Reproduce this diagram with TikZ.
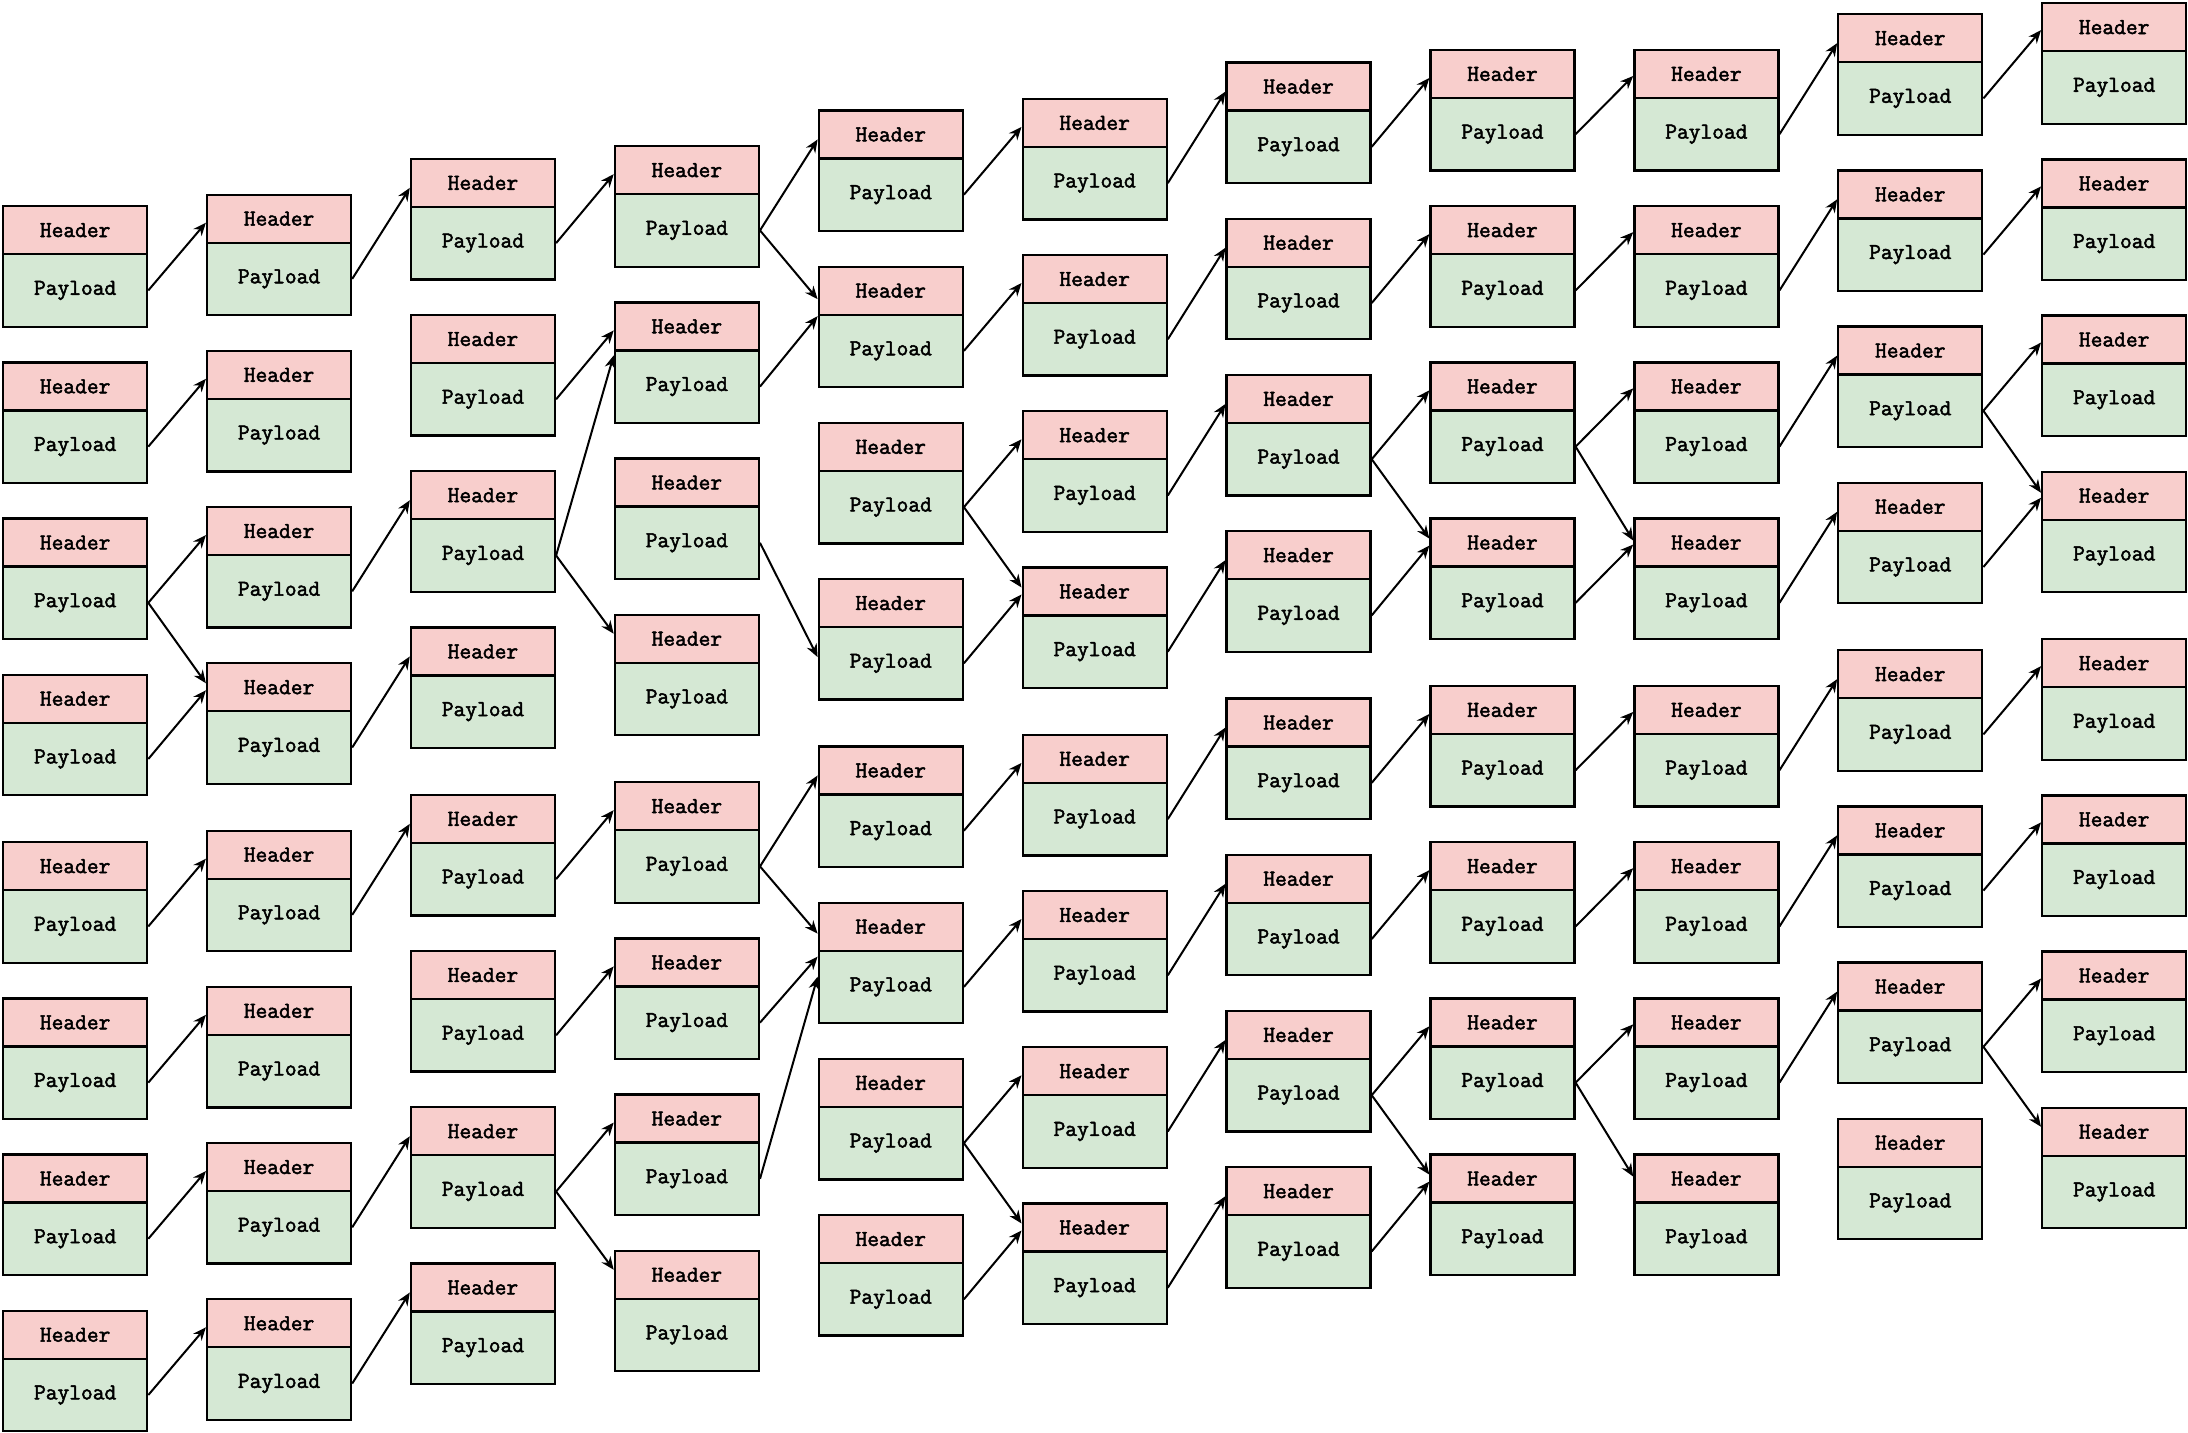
\documentclass[tikz,border=0pt]{standalone}
\usepackage{fontspec}
\newfontfamily\pktfont{Latin Modern Mono}[FakeBold=2.2]
\usetikzlibrary{arrows.meta}

\definecolor{hdrred}{HTML}{F8CECC}
\definecolor{pldgreen}{HTML}{D5E8D4}

\tikzset{
  hdr/.style={draw, line width=1.15pt, fill=hdrred, anchor=north west,
              minimum width=72pt, minimum height=24pt, inner sep=0pt,
              font=\pktfont\fontsize{11.4pt}{13pt}\selectfont},
  pld/.style={hdr, fill=pldgreen, minimum height=36.25pt},
  link/.style={-{Stealth[length=6.5pt, width=5.4pt]}, line width=1pt}
}

\begin{document}
\begin{tikzpicture}[x=0.5pt, y=-0.5pt]
  \useasboundingbox (0,0) rectangle (2188,1432);

  % Packets: column / top of first header
  \foreach \c/\t in {0/205, 1/193.5, 2/157.7, 3/145, 4/109.3, 5/97.7,
                     6/61.4, 7/48.8, 8/48.8, 9/13, 10/2} {
    \foreach \r/\o in {0/0, 1/156.2, 2/312.4, 3/468.6,
                       4/636, 5/792.2, 6/948.4, 7/1104.6} {
      \node[hdr] (h\c-\r) at ({2+203.9*\c}, {\t+\o}) {Header};
      \node[pld] (p\c-\r) at ({2+203.9*\c}, {\t+\o+48}) {Payload};
    }
  }

  % Links: payload -> next header (last value shifts the tip)
  \foreach \a/\b/\d in {
      0-0/1-0/-2pt, 0-1/1-1/-2pt, 0-2/1-2/-2pt, 0-2/1-3/2pt, 0-3/1-3/-1.5pt,
      0-4/1-4/-2pt, 0-5/1-5/-2pt, 0-6/1-6/-2pt, 0-7/1-7/-2pt,
      1-0/2-0/-2.5pt, 1-2/2-2/-2.5pt, 1-3/2-3/-2.5pt, 1-4/2-4/-2.5pt,
      1-6/2-6/-2.5pt, 1-7/2-7/-2.5pt,
      2-0/3-0/-2pt, 2-1/3-1/-2pt, 2-2/3-1/-14.5pt, 2-2/3-3/2.5pt,
      2-4/3-4/-2pt, 2-5/3-5/-2pt, 2-6/3-6/-2pt, 2-6/3-7/2.5pt,
      3-0/4-0/-2.5pt, 3-0/4-1/-4.25pt, 3-1/4-1/-12.75pt, 3-2/4-3/-27pt,
      3-4/4-4/-2.5pt, 3-4/4-5/-3.5pt, 3-5/4-5/-15pt, 3-6/4-5/-25pt,
      4-0/5-0/-2pt, 4-1/5-1/-2pt, 4-2/5-2/-2pt, 4-2/5-3/2pt, 4-3/5-3/-1.5pt,
      4-4/5-4/-2pt, 4-5/5-5/-2pt, 4-6/5-6/-2pt, 4-6/5-7/2pt, 4-7/5-7/-1.5pt,
      5-0/6-0/-2.5pt, 5-1/6-1/-2.5pt, 5-2/6-2/-2.5pt, 5-3/6-3/-2.5pt,
      5-4/6-4/-2.5pt, 5-5/6-5/-2.5pt, 5-6/6-6/-2.5pt, 5-7/6-7/-2.5pt,
      6-0/7-0/-2pt, 6-1/7-1/-2pt, 6-2/7-2/-2pt, 6-2/7-3/2pt, 6-3/7-3/-1.5pt,
      6-4/7-4/-2pt, 6-5/7-5/-2pt, 6-6/7-6/-2pt, 6-6/7-7/2pt, 6-7/7-7/-1.5pt,
      7-0/8-0/-1pt, 7-1/8-1/-1pt, 7-2/8-2/-1pt, 7-2/8-3/1pt, 7-3/8-3/-1pt,
      7-4/8-4/-1pt, 7-5/8-5/-1pt, 7-6/8-6/-1pt, 7-6/8-7/1pt,
      8-0/9-0/-2.5pt, 8-1/9-1/-2.5pt, 8-2/9-2/-2.5pt, 8-3/9-3/-2.5pt,
      8-4/9-4/-2.5pt, 8-5/9-5/-2.5pt, 8-6/9-6/-2.5pt,
      9-0/10-0/-1.5pt, 9-1/10-1/-1.5pt, 9-2/10-2/-1.5pt, 9-2/10-3/1.5pt,
      9-3/10-3/-1pt, 9-4/10-4/-1.5pt, 9-5/10-5/-1.5pt, 9-6/10-6/-1.5pt,
      9-6/10-7/2.5pt} {
    \draw[link] (p\a.east) -- ([yshift=\d]h\b.west);
  }
\end{tikzpicture}
\end{document}
